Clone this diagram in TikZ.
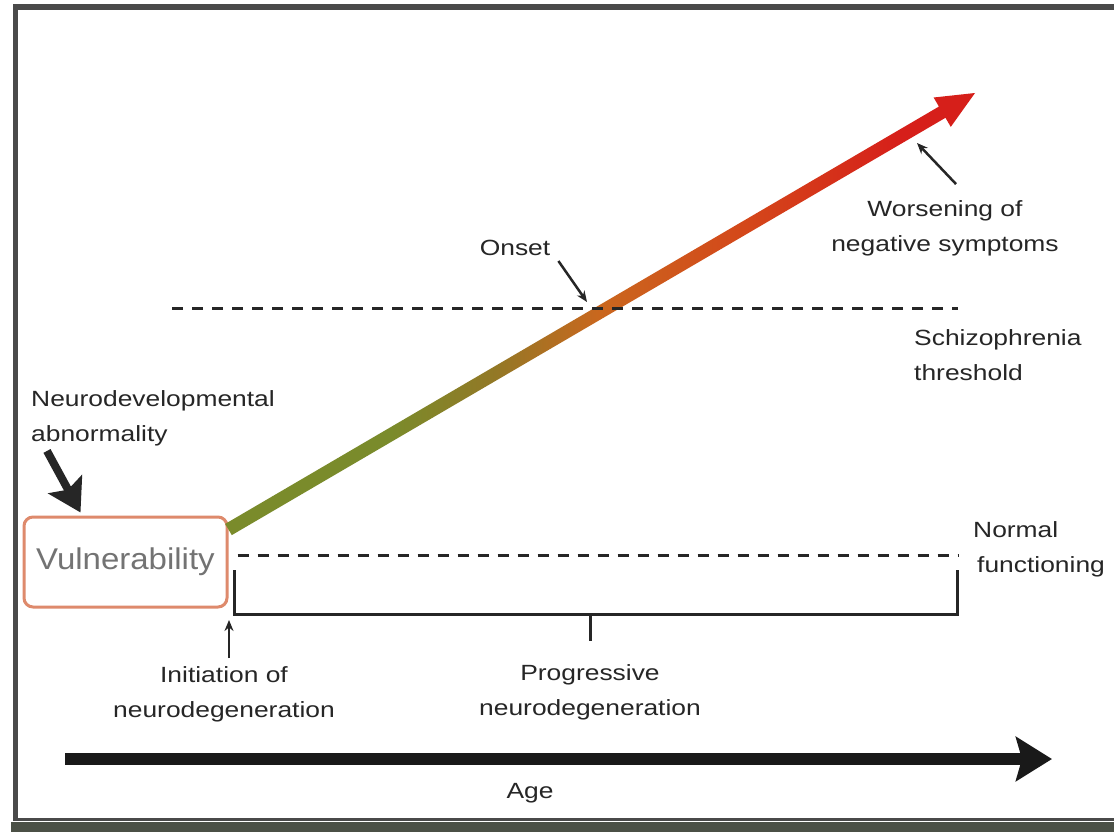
\documentclass[tikz,border=0pt]{standalone}
\usepackage{fontspec}
\setmainfont{Liberation Sans}[FakeStretch=1.2]
\newfontfamily\vulfont{Liberation Sans}[FakeStretch=1.1]
\usetikzlibrary{arrows.meta,calc}
\definecolor{boxline}{HTML}{DE8A6C}
\definecolor{olivegr}{HTML}{7A8B2B}
\definecolor{olivebr}{HTML}{937826}
\definecolor{rustor}{HTML}{CA671E}
\definecolor{redor}{HTML}{D4461A}
\definecolor{warmred}{HTML}{D61F1A}
\definecolor{textgray}{HTML}{262626}
\definecolor{framegray}{HTML}{4A4A4A}
\definecolor{bandgray}{HTML}{4B5046}
\pgfdeclarehorizontalshading{agegrad}{100bp}{color(0bp)=(olivegr); color(25bp)=(olivegr); color(36bp)=(olivegr); color(43bp)=(olivebr); color(50bp)=(rustor); color(60bp)=(redor); color(70bp)=(warmred); color(100bp)=(warmred)}
\begin{document}
\begin{tikzpicture}[x=1pt, y=-1pt,
	every node/.style={font=\fontsize{22}{35}\selectfont, text=textgray, inner sep=0pt},
	dashline/.style={dash pattern=on 11pt off 9pt, line width=3pt, textgray},
	brack/.style={line width=3pt, textgray},
	ptr/.style={-{Stealth[length=11pt,width=9pt]}, line width=2.5pt, textgray}]

	\useasboundingbox (0,0) rectangle (1114,832);
	\fill[white] (0,0) rectangle (1114,832);
	\fill[framegray] (13,4) rectangle (1114,10);
	\fill[framegray] (13,4) rectangle (18,821);
	\fill[framegray] (13,818) rectangle (1114,821);
	\fill[bandgray] (11,822) rectangle (1114,832);

	\node[draw=boxline, line width=3pt, rounded corners=9pt, minimum width=203pt, minimum height=90pt,
		font=\vulfont\fontsize{30}{36}\selectfont, text=black!55] (vul) at (125.5,562) {Vulnerability};
	\node[align=left, anchor=west] (neuro) at (31,418) {Neurodevelopmental\\abnormality};
	\node (onset) at (515,248) {Onset};
	\node[align=center] (worse) at (945,228) {Worsening of\\negative symptoms};
	\node[align=left, anchor=west] (schizo) at (914,355) {Schizophrenia\\threshold};
	\node[align=left, anchor=west] (normal) at (973,549) {Normal\\\hspace*{4pt}functioning};
	\node[align=center] (init) at (224,694) {Initiation of\\neurodegeneration};
	\node[align=center] (prog) at (590,692) {Progressive\\neurodegeneration};
	\node (age) at (530,793) {Age};

	\coordinate (start) at ($(vul.north east)+(0,14)$);
	\coordinate (tip) at (975,93);
	\coordinate (hb) at ($(tip)!38pt!(start)$);
	\shade[shading=agegrad] ($(start)!6.5pt!90:(tip)$) -- ($(hb)!6.5pt!90:(tip)$) -- ($(hb)!17pt!90:(tip)$)
		-- (tip) -- ($(hb)!17pt!-90:(tip)$) -- ($(hb)!6.5pt!-90:(tip)$) -- ($(start)!6.5pt!-90:(tip)$) -- cycle;

	\draw[dashline] (172,308) -- (958,308);
	\draw[dashline] ($(vul.east)+(9,-7)$) -- (958,555);

	\draw[brack] (234,570) |- (957,614) -- (957,570);
	\draw[brack] (590,614) -- (590,641);

	\coordinate (onsetpt) at (587,302);
	\coordinate (worsept) at (917,143);
	\coordinate (initpt) at (229,620);
	\coordinate (neurotip) at ($(vul.north west)+(58,-3)$);
	\draw[ptr] ($(onset.south east)+(8,5)$) -- (onsetpt);
	\draw[ptr] ($(worse.north)+(11,-16)$) -- (worsept);
	\draw[ptr] ($(init.north -| initpt)+(0,-8)$) -- (initpt);
	\draw[-{Stealth[length=32pt,width=38pt,inset=6pt]}, line width=8pt, textgray] ($(neuro.south west)+(16,5)$) -- (neurotip);

	\coordinate (ageL) at (65,759);
	\coordinate (ageR) at (1052,759);
	\draw[-{Stealth[length=36pt,width=44pt,inset=6pt]}, line width=12pt, black!90] (ageL) -- (ageR);

\end{tikzpicture}
\end{document}
